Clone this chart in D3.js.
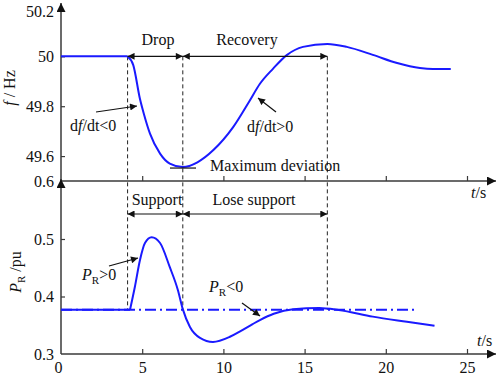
<!DOCTYPE html>
<html>
<head>
<meta charset="utf-8">
<script src="https://cdn.jsdelivr.net/npm/d3@7"></script>
<style>
  body { margin: 0; background: #fff; }
  svg text { font-family: "Times New Roman", Times, "Liberation Serif", Tinos, "Noto Serif", "DejaVu Serif", serif !important; fill: #111; }
</style>
</head>
<body>
<svg id="chart" width="498" height="377"></svg>
<script>
// frequency response (top panel)
const fTime  = [0, 4.1, 4.45, 4.86, 5.1, 5.48, 6.1, 6.7, 7.5, 8.4, 9.4, 10.6, 11.6, 12.25, 13.05, 13.9, 14.9, 16.4, 17.6, 19.2, 20.7, 22.1, 22.9, 24];
const fValue = [50, 50, 49.965, 49.83, 49.77, 49.69, 49.61, 49.57, 49.556, 49.575, 49.625, 49.716, 49.82, 49.89, 49.95, 50.005, 50.038, 50.05, 50.038, 50.006, 49.973, 49.953, 49.949, 49.949];

// reserve power (bottom panel)
const pTime  = [0, 4.25, 4.55, 4.86, 5.17, 5.58, 6.1, 6.7, 7.2, 7.5, 7.94, 8.56, 9.36, 10.4, 11.0, 11.8, 12.25, 13.1, 14.3, 15.9, 17.1, 19.2, 21.3, 23.0];
const pValue = [0.377, 0.377, 0.417, 0.463, 0.493, 0.503, 0.493, 0.451, 0.411, 0.378, 0.347, 0.328, 0.321, 0.33, 0.339, 0.352, 0.359, 0.37, 0.378, 0.38, 0.3765, 0.365, 0.356, 0.349];

const xTicks = [0, 5, 10, 15, 20, 25];
const fTicks = [49.6, 49.8, 50, 50.2];
const pTicks = [0.3, 0.4, 0.5, 0.6];
const eventTimes = [4.1, 7.5, 16.4];   // start of drop, max deviation, peak
const pBase = 0.377;
const pBaseEnd = 21.8;

const svg = d3.select("#chart");
const blue = "#1a1aff";
const axisColor = "#3a3a3a";
const serif = '"Times New Roman", Times, "Liberation Serif", Tinos, "Noto Serif", "DejaVu Serif", serif';

const x = d3.scaleLinear().domain([0, 25]).range([61, 467]);
const yTop = d3.scaleLinear().domain([49.5, 50.2]).range([181, 6.5]);
const yBot = d3.scaleLinear().domain([0.3, 0.6]).range([354, 181.5]);

// arrow markers
const defs = svg.append("defs");
defs.append("marker")
  .attr("id", "head")
  .attr("viewBox", "0 0 10 10")
  .attr("refX", 10).attr("refY", 5)
  .attr("markerWidth", 9).attr("markerHeight", 7)
  .attr("markerUnits", "userSpaceOnUse")
  .attr("orient", "auto-start-reverse")
  .append("path").attr("d", "M0,0 L10,5 L0,10 z").attr("fill", "#111");
defs.append("marker")
  .attr("id", "axhead")
  .attr("viewBox", "0 0 10 10")
  .attr("refX", 10).attr("refY", 5)
  .attr("markerWidth", 12).attr("markerHeight", 9)
  .attr("markerUnits", "userSpaceOnUse")
  .attr("orient", "auto")
  .append("path").attr("d", "M0,0 L10,5 L0,10 z").attr("fill", "#111");

// axes lines with arrow tips
function axisLine(x1, y1, x2, y2) {
  svg.append("line")
    .attr("x1", x1).attr("y1", y1).attr("x2", x2).attr("y2", y2)
    .attr("stroke", axisColor).attr("stroke-width", 1.5)
    .attr("marker-end", "url(#axhead)");
}
axisLine(x(0), yTop(49.5), x(0), 3);
axisLine(x(0), yTop(49.5), 496, yTop(49.5));
axisLine(x(0), yBot(0.3), x(0), 179);
axisLine(x(0), yBot(0.3), 496, yBot(0.3));

function styleAxis(g) {
  g.attr("font-family", serif);
  g.select(".domain").remove();
  g.selectAll(".tick line").attr("stroke", axisColor).attr("stroke-width", 1.2);
  g.selectAll(".tick text").style("font-size", "16px").attr("fill", "#111");
}

// top panel axes
svg.append("g")
  .attr("transform", `translate(0,${yTop(49.5)})`)
  .call(d3.axisBottom(x).tickValues(xTicks.slice(1)).tickSize(-5).tickFormat(""))
  .call(styleAxis);
svg.append("g")
  .attr("transform", `translate(${x(0)},0)`)
  .call(d3.axisLeft(yTop).tickValues(fTicks).tickSize(-4).tickPadding(7).tickFormat(d3.format("")))
  .call(styleAxis)
  .call(g => g.selectAll(".tick").filter(d => d === 50.2).select("line").remove())
  .call(g => g.selectAll(".tick").filter(d => d === 50.2).select("text").attr("dy", "0.6em"));

// bottom panel axes
svg.append("g")
  .attr("transform", `translate(0,${yBot(0.3)})`)
  .call(d3.axisBottom(x).tickValues(xTicks).tickSize(-5).tickPadding(8))
  .call(styleAxis)
  .call(g => g.selectAll(".tick").filter(d => d === 0).select("line").remove())
  .call(g => g.selectAll(".tick").filter(d => d === 0).select("text").attr("x", -3));
svg.append("g")
  .attr("transform", `translate(${x(0)},0)`)
  .call(d3.axisLeft(yBot).tickValues(pTicks).tickSize(-4).tickPadding(7).tickFormat(d3.format(".1f")))
  .call(styleAxis)
  .call(g => g.selectAll(".tick").filter(d => d === 0.3 || d === 0.6).select("line").remove());

// text helper
function label(xp, yp, html, anchor, rotate) {
  const t = svg.append("text")
    .attr("text-anchor", anchor || "start")
    .attr("font-family", serif)
    .style("font-size", "16px").html(html);
  if (rotate) t.attr("transform", `translate(${xp},${yp}) rotate(-90)`);
  else t.attr("x", xp).attr("y", yp);
  return t;
}

// axis titles
label(15, 88, '<tspan font-style="italic">f</tspan> / Hz', "middle", true);
label(21, 272, '<tspan font-style="italic">P</tspan><tspan font-size="11px" dy="4">R</tspan><tspan dy="-4"> /pu</tspan>', "middle", true);
label(471, 198, '<tspan font-style="italic">t</tspan>/s');
label(477, 346, '<tspan font-style="italic">t</tspan>/s');

// event dashed lines
svg.selectAll(".evt")
  .data(eventTimes)
  .enter().append("line")
  .attr("class", "evt")
  .attr("x1", d => x(d)).attr("x2", d => x(d))
  .attr("y1", yTop(50)).attr("y2", yBot(pBase))
  .attr("stroke", "#222").attr("stroke-width", 1)
  .attr("stroke-dasharray", "4,3");

// baseline dash-dot
svg.append("line")
  .attr("x1", x(0)).attr("x2", x(pBaseEnd))
  .attr("y1", yBot(pBase)).attr("y2", yBot(pBase))
  .attr("stroke", blue).attr("stroke-width", 1.8)
  .attr("stroke-dasharray", "11,4,2,4");

// curves
function drawCurve(ts, vs, y, split) {
  const pts = ts.map((t, i) => [t, vs[i]]);
  const line = d3.line().x(d => x(d[0])).y(d => y(d[1]));
  const flat = pts.filter(d => d[0] <= split);
  const dyn = pts.filter(d => d[0] >= split);
  svg.append("path").attr("d", line(flat))
    .attr("fill", "none").attr("stroke", blue).attr("stroke-width", 2);
  svg.append("path").attr("d", line.curve(d3.curveMonotoneX)(dyn))
    .attr("fill", "none").attr("stroke", blue).attr("stroke-width", 2);
}
drawCurve(fTime, fValue, yTop, 4.1);
drawCurve(pTime, pValue, yBot, 4.25);

// double arrows
function arrow(x1, y1, x2, y2, both) {
  const l = svg.append("line")
    .attr("x1", x1).attr("y1", y1).attr("x2", x2).attr("y2", y2)
    .attr("stroke", "#111").attr("stroke-width", 1.2)
    .attr("marker-end", "url(#head)");
  if (both) l.attr("marker-start", "url(#head)");
}
arrow(x(eventTimes[0]), yTop(50), x(eventTimes[1]), yTop(50), true);
arrow(x(eventTimes[1]), yTop(50), x(eventTimes[2]), yTop(50), true);
arrow(x(eventTimes[0]), 214, x(eventTimes[1]), 214, true);
arrow(x(eventTimes[1]), 214, x(eventTimes[2]), 214, true);

// pointer arrows
arrow(96, 112, 137, 106);
arrow(276, 112, 258, 98);
arrow(109, 266, 138, 258);
arrow(242, 303, 260, 316);

// max deviation marker
svg.append("line")
  .attr("x1", 170).attr("x2", 196)
  .attr("y1", yTop(49.556) + 1).attr("y2", yTop(49.556) + 1)
  .attr("stroke", "#111").attr("stroke-width", 1.2);

// annotations
label(158, 45, "Drop", "middle");
label(247, 45, "Recovery", "middle");
label(210, 171, "Maximum deviation");
label(70, 131, 'd<tspan font-style="italic">f</tspan>/dt&lt;0');
label(247, 132, 'd<tspan font-style="italic">f</tspan>/dt&gt;0');
label(157, 205, "Support", "middle");
label(254, 205, "Lose support", "middle");
label(82, 280, '<tspan font-style="italic">P</tspan><tspan font-size="11px" dy="4">R</tspan><tspan dy="-4">&gt;0</tspan>');
label(209, 292, '<tspan font-style="italic">P</tspan><tspan font-size="11px" dy="4">R</tspan><tspan dy="-4">&lt;0</tspan>');
</script>
</body>
</html>
